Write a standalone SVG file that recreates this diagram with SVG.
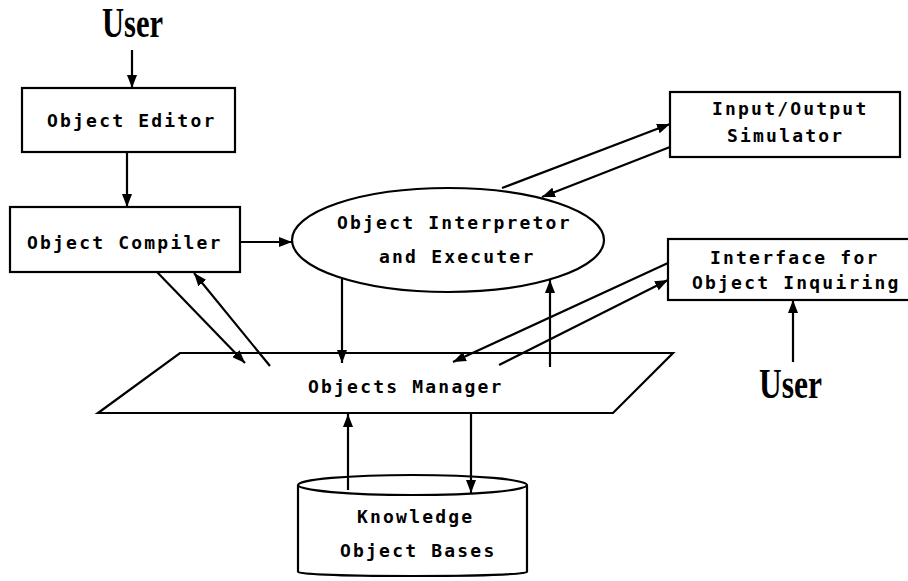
<svg xmlns="http://www.w3.org/2000/svg" width="908" height="581" viewBox="0 0 908 581">
  <style>
    .box { fill: #fff; stroke: #000; stroke-width: 2.2; }
    .lbl { font-family: "DejaVu Sans Mono", "Liberation Mono", monospace; font-weight: bold; font-size: 18px; letter-spacing: 2.2px; fill: #000; }
    .user { font-family: "Liberation Serif", "DejaVu Serif", serif; font-weight: bold; font-size: 42px; fill: #000; }
    .wire { fill: none; stroke: #000; stroke-width: 2.2; marker-end: url(#head); }
  </style>
  <defs>
    <marker id="head" markerUnits="userSpaceOnUse" markerWidth="14" markerHeight="10" refX="13" refY="5" orient="auto">
      <path d="M0,0 L13,5 L0,10 Z" fill="#000"/>
    </marker>
  </defs>
  <rect width="908" height="581" fill="#fff"/>

  <g id="user-top">
    <text class="user" x="102" y="37" textLength="61" lengthAdjust="spacingAndGlyphs">User</text>
  </g>

  <g id="object-editor">
    <rect class="box" x="22" y="88" width="213" height="64"/>
    <text class="lbl" x="47" y="127">Object Editor</text>
  </g>

  <g id="object-compiler">
    <rect class="box" x="10" y="207" width="230" height="65"/>
    <text class="lbl" x="27" y="249">Object Compiler</text>
  </g>

  <g id="interpreter">
    <ellipse class="box" cx="448" cy="240" rx="156" ry="52"/>
    <text class="lbl" x="337" y="229">Object Interpretor</text>
    <text class="lbl" x="379" y="263">and Executer</text>
  </g>

  <g id="io-simulator">
    <rect class="box" x="670" y="92" width="230" height="65"/>
    <text class="lbl" x="712" y="115">Input/Output</text>
    <text class="lbl" x="727" y="142">Simulator</text>
  </g>

  <g id="inquiry-interface">
    <rect class="box" x="668" y="239" width="250" height="61"/>
    <text class="lbl" x="710" y="264">Interface for</text>
    <text class="lbl" x="692" y="289">Object Inquiring</text>
  </g>

  <g id="user-right">
    <text class="user" x="759" y="398" textLength="63" lengthAdjust="spacingAndGlyphs">User</text>
  </g>

  <g id="objects-manager">
    <polygon class="box" points="180,353 673,353 613,413 98,413"/>
    <text class="lbl" x="308" y="393">Objects Manager</text>
  </g>

  <g id="knowledge-bases">
    <path class="box" d="M298,485 L298,572 A114.5,4 0 0 0 527,572 L527,485"/>
    <ellipse class="box" cx="412.5" cy="485" rx="114.5" ry="10"/>
    <text class="lbl" x="357" y="523">Knowledge</text>
    <text class="lbl" x="340" y="557">Object Bases</text>
  </g>

  <g id="connectors">
    <path class="wire" d="M132,50 L132,88"/>
    <path class="wire" d="M127,152 L127,207"/>
    <path class="wire" d="M240,242 L292,242"/>
    <path class="wire" d="M502,188 L670,124"/>
    <path class="wire" d="M670,147 L542,197"/>
    <path class="wire" d="M342,279 L342,363"/>
    <path class="wire" d="M550,367 L550,280"/>
    <path class="wire" d="M157,272 L245,363"/>
    <path class="wire" d="M270,366 L194,273"/>
    <path class="wire" d="M668,263 L453,362"/>
    <path class="wire" d="M499,365 L668,280"/>
    <path class="wire" d="M793,362 L793,300"/>
    <path class="wire" d="M348,490 L348,414"/>
    <path class="wire" d="M471,413 L471,493"/>
  </g>
</svg>
